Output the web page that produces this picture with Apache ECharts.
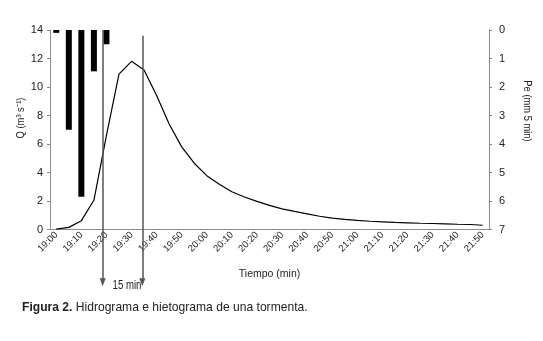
<!DOCTYPE html>
<html><head><meta charset="utf-8">
<script src="https://cdn.jsdelivr.net/npm/echarts@6/dist/echarts.min.js"></script>
<style>html,body{margin:0;padding:0;background:#fff}#c{width:543px;height:341px}</style>
</head><body><div id="c"></div>
<script>
const categories = ['19:00','19:05','19:10','19:15','19:20','19:25','19:30','19:35','19:40','19:45',
  '19:50','19:55','20:00','20:05','20:10','20:15','20:20','20:25','20:30','20:35',
  '20:40','20:45','20:50','20:55','21:00','21:05','21:10','21:15','21:20','21:25',
  '21:30','21:35','21:40','21:45','21:50'];
const discharge = [0.02,0.15,0.62,2.05,6.6,10.9,11.8,11.2,9.4,7.4,
  5.8,4.65,3.78,3.17,2.65,2.28,1.97,1.69,1.45,1.27,
  1.1,0.93,0.8,0.71,0.64,0.58,0.54,0.5,0.47,0.44,
  0.42,0.4,0.37,0.35,0.3];
const precipitation = [0.1,3.5,5.85,1.45,0.5];
const markerMinutes = [18.5,34.3];
const markerTops = [14,13.6];
const markerBottom = -3.7;
const qTickInterval = 2;
const peTickInterval = 1;

const font = "'Liberation Sans',Arial,sans-serif";
const axisGray = '#8c8c8c';
const txt = '#222';

const chart = echarts.init(document.getElementById('c'), null, {renderer:'canvas'});
chart.setOption({
  animation:false,
  textStyle:{fontFamily:font},
  grid:[
    {left:50, top:30, width:439, height:199.5},
    {left:50, top:30, width:439, height:270.75}
  ],
  xAxis:[
    {type:'category', gridIndex:0, data:categories, position:'bottom',
     axisLine:{lineStyle:{color:axisGray}},
     axisTick:{length:3, interval:0, lineStyle:{color:axisGray}},
     axisLabel:{interval:1, rotate:45, fontSize:9.5, color:txt, margin:4, fontFamily:font},
     name:'Tiempo (min)', nameLocation:'middle', nameGap:39,
     nameTextStyle:{fontSize:10.5, color:txt, fontFamily:font}},
    {type:'category', gridIndex:0, data:categories, position:'bottom',
     axisLine:{show:false},
     axisTick:{inside:true, length:3, interval:0, lineStyle:{color:axisGray}},
     axisLabel:{show:false}},
    {type:'value', gridIndex:1, min:-2.5, max:172.5, show:false}
  ],
  yAxis:[
    {type:'value', gridIndex:0, min:0, max:14, interval:qTickInterval, position:'left',
     axisLine:{show:true, lineStyle:{color:axisGray}},
     axisTick:{show:true, length:3, lineStyle:{color:axisGray}},
     splitLine:{show:false},
     axisLabel:{fontSize:11, color:txt, margin:7, fontFamily:font}},
    {type:'value', gridIndex:0, min:0, max:7, interval:peTickInterval, position:'right', inverse:true,
     axisLine:{show:true, lineStyle:{color:axisGray}},
     axisTick:{show:true, length:3, lineStyle:{color:axisGray}},
     splitLine:{show:false},
     axisLabel:{fontSize:11, color:txt, margin:10, fontFamily:font}},
    {type:'value', gridIndex:1, min:-5, max:14, show:false}
  ],
  series:[
    {type:'line', xAxisIndex:2, yAxisIndex:2, data:[], z:1,
     markLine:{silent:true, symbol:['none','triangle'], symbolSize:[6,8],
       lineStyle:{color:'#555', width:1.5, type:'solid'}, label:{show:false},
       data: markerMinutes.map((m,i)=>[{coord:[m, markerTops[i]]},{coord:[m, markerBottom]}])}},
    {type:'line', xAxisIndex:0, yAxisIndex:0, data:discharge, showSymbol:false, symbol:'none',
     lineStyle:{color:'#000', width:1.2}, z:3},
    {type:'bar', xAxisIndex:0, yAxisIndex:1, data:precipitation, barWidth:6,
     itemStyle:{color:'#000'}, z:4}
  ],
  graphic:[
    {type:'text', x:21, y:118, rotation:Math.PI/2, scaleX:0.85,
     style:{text:'Q (m³ s⁻¹)', font:'11px '+font, fill:txt, textAlign:'center', textVerticalAlign:'middle'}},
    {type:'text', x:527, y:111, rotation:-Math.PI/2, scaleX:0.85,
     style:{text:'Pe (mm 5 min)', font:'11px '+font, fill:txt, textAlign:'center', textVerticalAlign:'middle'}},
    {type:'text', x:127, y:286, scaleX:0.8,
     style:{text:'15 min', font:'12px '+font, fill:txt, textAlign:'center', textVerticalAlign:'middle'}},
    {type:'text', x:22, y:307, scaleX:0.93,
     style:{text:'{b|Figura 2.} Hidrograma e hietograma de una tormenta.',
       font:'13px '+font, fill:txt, textVerticalAlign:'middle',
       rich:{b:{fontWeight:'bold', fontSize:13, fontFamily:font, fill:txt}}}}
  ]
});
</script>
</body></html>
